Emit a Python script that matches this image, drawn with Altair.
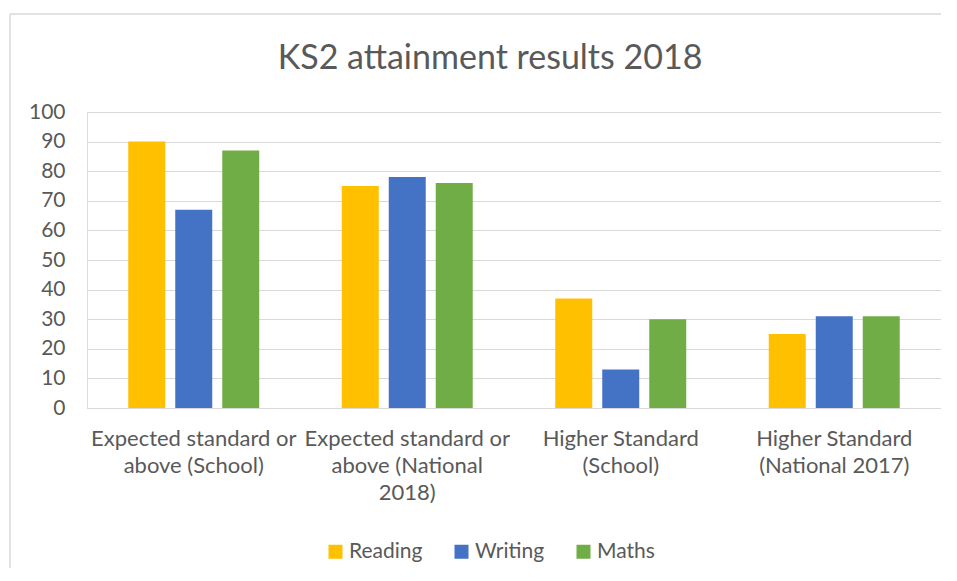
import altair as alt
import pandas as pd

categories = [
    "Expected standard or above (School)",
    "Expected standard or above (National 2018)",
    "Higher Standard (School)",
    "Higher Standard (National 2017)",
]
category_lines = [
    ["Expected standard or", "above (School)"],
    ["Expected standard or", "above (National", "2018)"],
    ["Higher Standard", "(School)"],
    ["Higher Standard", "(National 2017)"],
]
subjects = ["Reading", "Writing", "Maths"]
reading = [90, 75, 37, 25]
writing = [67, 78, 13, 31]
maths = [87, 76, 30, 31]
colors = ["#FFC000", "#4472C4", "#70AD47"]
y_ticks = list(range(0, 101, 10))

rows = []
for i, c in enumerate(categories):
    for s, vals in zip(subjects, [reading, writing, maths]):
        rows.append({"category": c, "subject": s, "value": vals[i]})
df = pd.DataFrame(rows)

FONT = "Lato"
TXT = "#595959"
GRID = "#D9D9D9"

label_expr = ""
for c, lines in zip(categories, category_lines):
    arr = "[" + ",".join("'" + l + "'" for l in lines) + "]"
    label_expr += f"datum.value == '{c}' ? {arr} : "
label_expr += "datum.value"

bars = alt.Chart(df).mark_bar().encode(
    x=alt.X(
        "category:N",
        sort=categories,
        scale=alt.Scale(paddingInner=0, paddingOuter=0),
        axis=alt.Axis(
            title=None,
            labelAngle=0,
            ticks=False,
            domain=True,
            domainColor=GRID,
            domainWidth=1,
            labelExpr=label_expr,
            labelFont=FONT,
            labelFontSize=22,
            labelColor=TXT,
            labelPadding=20,
            labelLineHeight=27,
            labelBaseline="top",
            labelLimit=400,
        ),
    ),
    xOffset=alt.XOffset(
        "subject:N",
        sort=subjects,
        scale=alt.Scale(paddingInner=0.213, paddingOuter=0.878),
    ),
    y=alt.Y(
        "value:Q",
        scale=alt.Scale(domain=[0, 100], nice=False),
        axis=alt.Axis(
            title=None,
            values=y_ticks,
            ticks=False,
            domain=False,
            grid=True,
            gridColor=GRID,
            gridWidth=1,
            labelFont=FONT,
            labelFontSize=21,
            labelColor=TXT,
            labelPadding=22,
        ),
    ),
    color=alt.Color(
        "subject:N",
        sort=subjects,
        scale=alt.Scale(domain=subjects, range=colors),
        legend=alt.Legend(
            title=None,
            orient="none",
            legendX=238,
            legendY=429,
            direction="horizontal",
            symbolType="square",
            symbolSize=196,
            symbolStrokeWidth=0,
            labelFont=FONT,
            labelFontSize=21,
            labelColor=TXT,
            columnPadding=28,
            labelOffset=3,
        ),
    ),
)

one = pd.DataFrame({"a": [0]})
border_top = alt.Chart(one).mark_rule(color=GRID, strokeWidth=1.5).encode(
    x=alt.value(-77), x2=alt.value(860), y=alt.value(-98)
)
border_left = alt.Chart(one).mark_rule(color=GRID, strokeWidth=1.5).encode(
    x=alt.value(-77), y=alt.value(-98), y2=alt.value(460)
)

chart = alt.layer(border_top, border_left, bars).properties(
    width=854,
    height=296,
    autosize=alt.AutoSizeParams(type="none"),
    padding={"left": 79, "top": 104, "right": 0, "bottom": 160},
    title=alt.TitleParams(
        "KS2 attainment results 2018",
        font=FONT,
        fontSize=34,
        fontWeight="normal",
        color=TXT,
        anchor="middle",
        frame="group",
        dx=-24,
        offset=-90,
        baseline="alphabetic",
    ),
).configure_view(stroke=None).configure(background="white")

chart.save("out.html", embed_options={"renderer": "svg", "actions": False})
